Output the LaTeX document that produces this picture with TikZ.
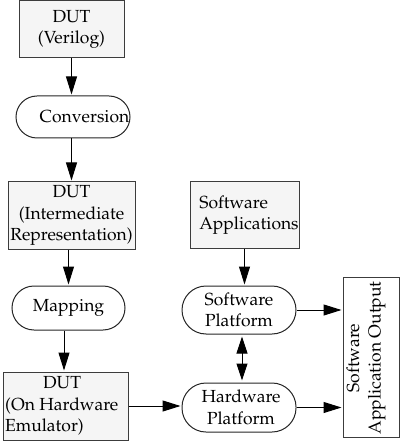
\documentclass[tikz,border=0pt]{standalone}
\IfFileExists{mathpazo.sty}{\usepackage[T1]{fontenc}\usepackage{mathpazo}\newcommand{\mysz}{17.5}}{\usepackage{fontspec}\setmainfont{Liberation Serif}\newcommand{\mysz}{18.5}}
\usetikzlibrary{arrows.meta,calc}
\definecolor{boxfill}{RGB}{245,245,245}
\definecolor{edge}{RGB}{60,60,60}
\begin{document}
\begin{tikzpicture}[x=1pt,y=-1pt,
  every node/.style={font=\fontsize{\mysz}{21.5}\selectfont, inner sep=0pt, align=center},
  gbox/.style={draw=edge, fill=boxfill, line width=1pt},
  pill/.style={draw=black!85, fill=white, line width=1pt},
  arr/.style={-{Triangle[width=11pt,length=18pt]}, line width=1pt, shorten >=1pt},
  darr/.style={{Triangle[width=11pt,length=17pt]}-{Triangle[width=11pt,length=17pt]}, line width=1pt, shorten >=2pt, shorten <=2pt}]
\useasboundingbox (0,0) rectangle (400,443);
% left column
\node[gbox, minimum width=105pt, minimum height=57pt] (v) at (71.5,29.5) {DUT\\(Verilog)};
\node[pill, rounded corners=21pt, minimum width=114pt, minimum height=42pt] (conv) at (73,117) {};
\node (convt) at ($(conv)+(11.5,0)$) {Conversion};
\node[gbox, minimum width=127pt, minimum height=67pt] (ir) at (71.5,215.5) {DUT\\(Intermediate\\Representation)};
\node[pill, rounded corners=22pt, minimum width=113pt, minimum height=44pt] (map) at (68.5,308) {Mapping};
\node[gbox, minimum width=125pt, minimum height=68pt] (emu) at (65.5,406) {};
\node[align=left, anchor=west] (emut) at (5,406) {\hspace*{38pt}DUT\\(On Hardware\\Emulator)};
% right part
\node[gbox, minimum width=109pt, minimum height=66pt] (sa) at (244.5,215) {};
\node[align=left] (sat) at ($(sa)+(4.5,0)$) {Software\\Applications};
\node[pill, rounded corners=24pt, minimum width=114pt, minimum height=48pt] (sp) at (239,310) {Software\\Platform};
\node[pill, rounded corners=24pt, minimum width=114pt, minimum height=49pt] (hp) at (239,407.5) {};
\node (hpt) at ($(hp)+(2,0)$) {Hardware\\Platform};
\node[draw=edge, fill=white, line width=1pt, minimum width=56pt, minimum height=160pt] (out) at (371,357) {};
\node[rotate=90] (outt) at ($(out)+(-5,1)$) {Software\\Application Output};
% connectors
\coordinate (c1) at ($(map.south)+(-4.5,0)$);
\draw[arr] (v.south) -- (v.south |- conv.north);
\draw[arr] (v.south |- conv.south) -- (v.south |- ir.north);
\draw[arr] (map.north |- ir.south) -- (map.north);
\draw[arr] (c1) -- (c1 |- emu.north);
\draw[arr] (emu.east) -- (emu.east -| hp.west);
\draw[arr] (sa.south) -- (sa.south |- sp.north);
\draw[darr] ($(sp.south)+(3,0)$) -- ($(hp.north)+(3,0)$);
\draw[arr] (sp.east) -- (sp.east -| out.west);
\draw[arr] (hp.east) -- (hp.east -| out.west);
\end{tikzpicture}
\end{document}
